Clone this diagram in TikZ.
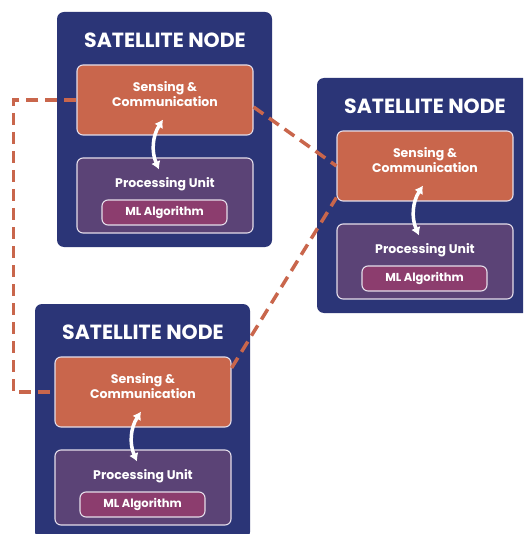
\documentclass[tikz,border=0pt]{standalone}
\usepackage{fontspec}
\setmainfont{Poppins}[BoldFont={* Bold}]
\usepackage{tikz}
\usetikzlibrary{arrows.meta, positioning, calc}
\definecolor{satnavy}{HTML}{2B3577}
\definecolor{sensecoral}{HTML}{C9664C}
\definecolor{procpurple}{HTML}{5B4376}
\definecolor{mlberry}{HTML}{8C3D6E}
\definecolor{rimwhite}{HTML}{E4DDEA}
\tikzset{
  sensebox/.style={draw=rimwhite, line width=1.1pt, fill=sensecoral, rounded corners=6pt,
    minimum width=176pt, minimum height=70pt, inner sep=0pt},
  procbox/.style={draw=rimwhite, line width=1.1pt, fill=procpurple, rounded corners=6pt,
    minimum width=176pt, minimum height=75pt, inner sep=0pt},
  mlbox/.style={draw=rimwhite, line width=1.1pt, fill=mlberry, rounded corners=6pt,
    minimum width=125pt, minimum height=25pt, inner sep=0pt,
    text=white, font=\bfseries\fontsize{11.5}{12}\selectfont},
  boxtext/.style={text=white, align=center, font=\bfseries\fontsize{12.5}{15}\selectfont},
  titletext/.style={text=white, font=\bfseries\fontsize{20.5}{22}\selectfont},
  linkline/.style={draw=sensecoral, line width=3.5pt, dash pattern=on 12pt off 7pt},
  swaparrow/.style={draw=white, line width=3.5pt, {Latex[length=8pt,width=10pt]}-{Latex[length=8pt,width=10pt]}}
}
\newcommand{\satnode}[3]{%
  \begin{scope}[shift={(#2,#3)}]
    \fill[satnavy, rounded corners=7pt] (0,0) rectangle (215,235);
    \node[titletext] (#1-t) at (108,28) {SATELLITE NODE};
    \node[sensebox] (#1-s) at (108,88) {};
    \node[boxtext] (#1-st) at (108,82) {Sensing \&\\Communication};
    \node[procbox] (#1-p) at (108,183.5) {};
    \node[boxtext] (#1-pt) at (108,172.5) {Processing Unit};
    \node[mlbox] (#1-m) at (107.5,200.5) {ML Algorithm};
    \draw[swaparrow] ([xshift=-2pt,yshift=16pt]#1-s.south) to[bend right=28] ([xshift=-6pt,yshift=-12pt]#1-p.north);
  \end{scope}%
}

\begin{document}
\begin{tikzpicture}[x=1pt, y=-1pt]
    \clip (0,0) rectangle (523,534);
    \fill[white] (0,0) rectangle (523,534);

    % three satellites
    \satnode{top}{57}{12}
    \satnode{right}{317}{78}
    \satnode{low}{35}{304}

    % links between them
    \draw[linkline] (top-s.west) -- ++(-63,0) |- (low-s.west);
    \draw[linkline] ([yshift=-7pt]top-s.east) -- (right-s.west);
    \draw[linkline] ([yshift=24pt]low-s.east) -- ([yshift=4pt]right-s.south west);
  \end{tikzpicture}
\end{document}
